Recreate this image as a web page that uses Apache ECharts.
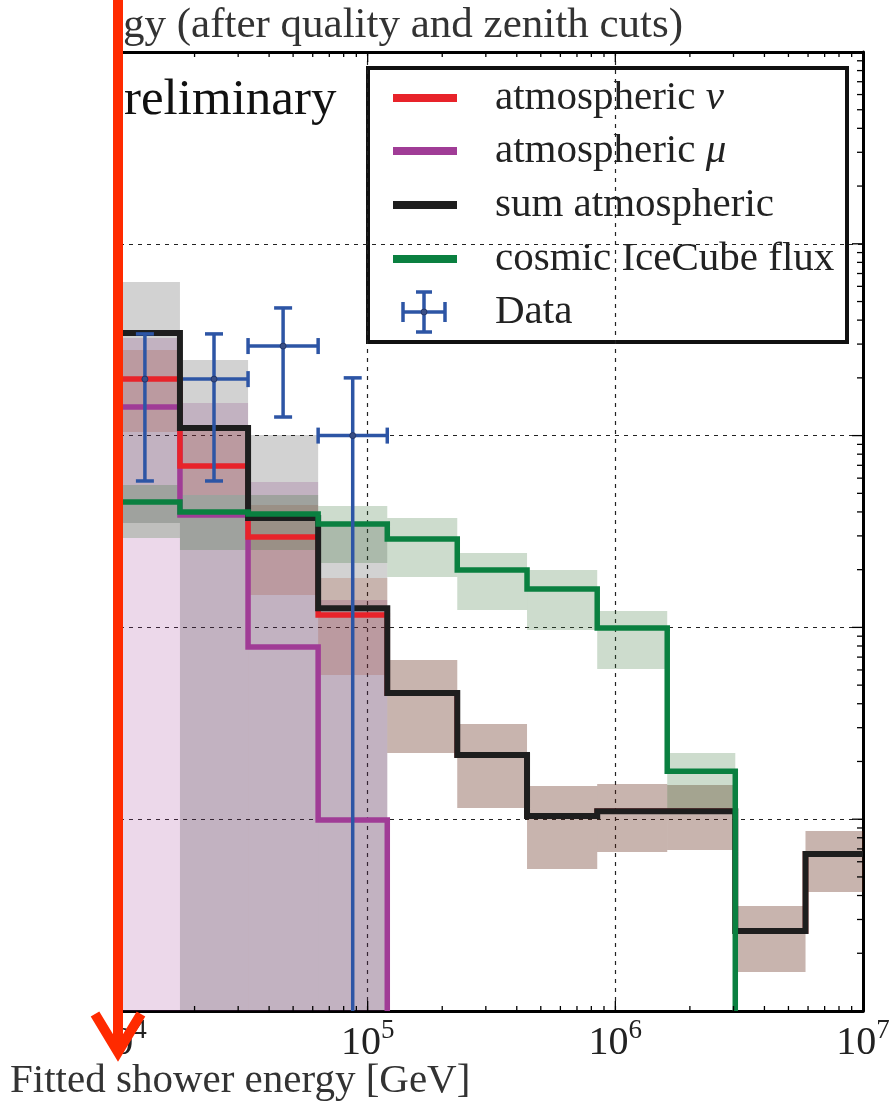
<!DOCTYPE html>
<html>
<head>
<meta charset="utf-8">
<script src="https://cdn.jsdelivr.net/npm/echarts@6/dist/echarts.min.js"></script>
<style>
  html, body { margin: 0; padding: 0; background: #ffffff; }
  #chart { width: 894px; height: 1109px; }
</style>
</head>
<body>
<div id="chart"></div>
<script>
// Bin edges of the fitted shower energy histogram [GeV]
const binEdges = [9100, 17460, 32890, 63100, 120000, 230000, 440000, 845000, 1620000, 3050000, 5860000, 11200000];

// Expected events per bin (0 = empty bin)
const atmNu  = [1.97, 0.694, 0.296, 0.116, 0.0455, 0.0216, 0.0104, 0.0110, 0.0110, 0.00261, 0.00659];
const atmMu  = [1.41, 0.385, 0.079, 0.0099, 0, 0, 0, 0, 0, 0, 0];
const sumAtm = [3.43, 1.096, 0.372, 0.126, 0.0455, 0.0216, 0.0104, 0.0110, 0.0110, 0.00261, 0.00659];
const cosmic = [0.451, 0.400, 0.390, 0.346, 0.289, 0.199, 0.1585, 0.0993, 0.0178, 0, 0];

// Uncertainty bands: low / high edge per bin (low 0 = open to the bottom, null = no band)
const atmNuLo  = [1.044, 0.490, 0.1475, 0.0565, 0.02214, 0.01144, 0.0055, 0.00675, 0.00691, 0.001598, 0.004173];
const atmNuHi  = [2.795, 1.136, 0.4347, 0.1810, 0.0676, 0.03135, 0.0149, 0.01526, 0.01508, 0.003527, 0.00868];
const atmMuLo  = [0, 0, 0, 0, null, null, null, null, null, null, null];
const atmMuHi  = [3.23, 1.479, 0.573, 0.139, null, null, null, null, null, null, null];
const sumLo    = [0.350, 0, 0, 0, 0.02214, 0.01144, 0.0055, 0.00675, 0.00691, 0.001598, 0.004173];
const sumHi    = [6.32, 2.48, 1.007, 0.354, 0.0676, 0.03135, 0.0149, 0.01526, 0.01508, 0.003527, 0.00868];
const cosmicLo = [0.2924, 0.2533, 0.2533, 0.2167, 0.1832, 0.1232, 0.0969, 0.0607, 0.01117, null, null];
const cosmicHi = [0.5526, 0.490, 0.490, 0.4295, 0.372, 0.2443, 0.199, 0.1218, 0.02214, null, null];

// Observed events (bin index, value, error bar low / high; low 0 = open to the bottom)
const dataBin = [0, 1, 2, 3];
const dataVal = [1.97, 1.97, 2.93, 1.0];
const dataLo  = [0.58, 0.58, 1.25, 0];
const dataHi  = [3.39, 3.39, 4.63, 2.0];

// Axis ranges
const xRange = [1e4, 1e7];
const yRange = [1e-3, 1e2];

// Text
const titleText  = 'gy (after quality and zenith cuts)';
const stampText  = 'reliminary';
const xTitleText = 'Fitted shower energy [GeV]';
const legendLabels = ['atmospheric {g|ν}', 'atmospheric {g|μ}', 'sum atmospheric', 'cosmic IceCube flux', 'Data'];

const SERIF = '"Liberation Serif", "Times New Roman", serif';
const COL = { nu: '#e8232a', mu: '#a03c96', sum: '#1e1e1e', cosmic: '#0a8040', data: '#2d55a5', arrow: '#ff2a00' };
const FLOOR = 1e-6; // stand-in for empty / open-ended values on the log axis

const chart = echarts.init(document.getElementById('chart'), null, { renderer: 'canvas' });

function bandSeries(lo, hi, fill) {
  const items = [];
  lo.forEach((l, i) => { if (l !== null) items.push([binEdges[i], l, binEdges[i + 1], hi[i]]); });
  return {
    type: 'custom', clip: true, silent: true,
    encode: { x: [0, 2], y: [1, 3] },
    data: items,
    renderItem(params, api) {
      const a = api.coord([api.value(0), api.value(3)]);
      const lowV = api.value(1) > 0 ? api.value(1) : FLOOR;
      const b = api.coord([api.value(2), lowV]);
      return { type: 'rect', shape: { x: a[0], y: a[1], width: b[0] - a[0], height: b[1] - a[1] }, style: { fill } };
    }
  };
}

function stepSeries(vals, stroke, width) {
  return {
    type: 'custom', clip: true, silent: true,
    data: [[binEdges[0], vals[0]]],
    renderItem(params, api) {
      const pts = [];
      for (let i = 0; i < vals.length; i++) {
        const v = vals[i];
        if (v > 0) {
          pts.push(api.coord([binEdges[i], v]));
          pts.push(api.coord([binEdges[i + 1], v]));
        } else {
          const last = pts[pts.length - 1];
          pts.push([last[0], api.coord([binEdges[i], FLOOR])[1]]);
          break;
        }
      }
      return { type: 'polyline', shape: { points: pts }, style: { stroke, lineWidth: width, fill: null, lineJoin: 'miter', lineCap: 'butt' } };
    }
  };
}

function dataItems() {
  return dataBin.map((b, k) => [Math.sqrt(binEdges[b] * binEdges[b + 1]), dataVal[k], dataLo[k], dataHi[k], binEdges[b], binEdges[b + 1], k]);
}

const BAR_W = 3.5;

// horizontal bars (bin width) of the data points
const dataHSeries = {
  type: 'custom', clip: true, silent: true,
  data: dataItems(),
  renderItem(params, api) {
    const l = api.coord([api.value(4), api.value(1)]);
    const r = api.coord([api.value(5), api.value(1)]);
    const st = { stroke: COL.data, lineWidth: BAR_W };
    return { type: 'group', children: [
      { type: 'line', shape: { x1: l[0], y1: l[1], x2: r[0], y2: r[1] }, style: st },
      { type: 'line', shape: { x1: l[0], y1: l[1] - 8, x2: l[0], y2: l[1] + 8 }, style: st },
      { type: 'line', shape: { x1: r[0], y1: r[1] - 8, x2: r[0], y2: r[1] + 8 }, style: st }
    ] };
  }
};

// vertical (statistical) bars and markers of the data points
const dataVSeries = {
  type: 'custom', clip: true, silent: true,
  data: dataItems(),
  renderItem(params, api) {
    const x = api.value(0);
    const c = api.coord([x, api.value(1)]);
    const lowV = api.value(2) > 0 ? api.value(2) : FLOOR;
    const lo = api.coord([x, lowV]);
    const hi = api.coord([x, api.value(3)]);
    const st = { stroke: COL.data, lineWidth: BAR_W };
    const kids = [
      { type: 'line', shape: { x1: c[0], y1: hi[1], x2: c[0], y2: lo[1] }, style: st },
      { type: 'line', shape: { x1: c[0] - 9, y1: hi[1], x2: c[0] + 9, y2: hi[1] }, style: st }
    ];
    if (api.value(2) > 0) kids.push({ type: 'line', shape: { x1: c[0] - 9, y1: lo[1], x2: c[0] + 9, y2: lo[1] }, style: st });
    kids.push({ type: 'circle', shape: { cx: c[0], cy: c[1], r: 3 }, style: { fill: '#3a4f86', stroke: '#23376b', lineWidth: 1 } });
    return { type: 'group', children: kids };
  }
};

// minor / major tick marks on the frame
const tickSeries = {
  type: 'custom', clip: false, silent: true,
  data: [[xRange[0], yRange[0]]],
  renderItem(params, api) {
    const kids = [];
    const st = { stroke: '#000', lineWidth: 1.3 };
    for (let d = Math.log10(xRange[0]); d < Math.log10(xRange[1]); d++) {
      for (let k = 1; k < 10; k++) {
        const v = k * Math.pow(10, d);
        if (v <= xRange[0]) continue;
        const len = k === 1 ? 10 : 5;
        const b = api.coord([v, yRange[0]]);
        const t = api.coord([v, yRange[1]]);
        kids.push({ type: 'line', shape: { x1: b[0], y1: b[1], x2: b[0], y2: b[1] - len }, style: st });
        kids.push({ type: 'line', shape: { x1: t[0], y1: t[1], x2: t[0], y2: t[1] + len }, style: st });
      }
    }
    for (let d = Math.log10(yRange[0]); d < Math.log10(yRange[1]); d++) {
      for (let k = 1; k < 10; k++) {
        const v = k * Math.pow(10, d);
        if (v <= yRange[0]) continue;
        const len = k === 1 ? 11 : 6;
        const r = api.coord([xRange[1], v]);
        kids.push({ type: 'line', shape: { x1: r[0], y1: r[1], x2: r[0] - len, y2: r[1] }, style: st });
      }
    }
    return { type: 'group', children: kids };
  }
};

const splitStyle = { show: true, lineStyle: { color: '#222', width: 1.2, type: [4, 5] } };
const frameLine = { show: true, lineStyle: { color: '#000', width: 3 } };

// legend panel
const legendGroup = (() => {
  const x0 = 368, y0 = 68, w = 479, h = 274;
  const rows = [98, 151, 205, 259, 312];
  const lineCols = [COL.nu, COL.mu, COL.sum, COL.cosmic];
  const kids = [{ type: 'rect', shape: { x: x0, y: y0, width: w, height: h }, style: { fill: '#fff', stroke: '#111', lineWidth: 4 } }];
  lineCols.forEach((c, i) => {
    kids.push({ type: 'line', shape: { x1: 393, y1: rows[i], x2: 457, y2: rows[i] }, style: { stroke: c, lineWidth: 8 } });
  });
  const st = { stroke: COL.data, lineWidth: BAR_W };
  const cx = 424, cy = rows[4];
  kids.push({ type: 'line', shape: { x1: 403, y1: cy, x2: 445, y2: cy }, style: st });
  kids.push({ type: 'line', shape: { x1: cx, y1: cy - 20, x2: cx, y2: cy + 20 }, style: st });
  kids.push({ type: 'line', shape: { x1: cx - 8, y1: cy - 20, x2: cx + 8, y2: cy - 20 }, style: st });
  kids.push({ type: 'line', shape: { x1: cx - 8, y1: cy + 20, x2: cx + 8, y2: cy + 20 }, style: st });
  kids.push({ type: 'line', shape: { x1: 403, y1: cy - 10, x2: 403, y2: cy + 10 }, style: st });
  kids.push({ type: 'line', shape: { x1: 445, y1: cy - 10, x2: 445, y2: cy + 10 }, style: st });
  kids.push({ type: 'circle', shape: { cx, cy, r: 3 }, style: { fill: '#3a4f86', stroke: '#23376b', lineWidth: 1 } });
  legendLabels.forEach((t, i) => {
    kids.push({ type: 'text', x: 495, y: rows[i], style: {
      text: t, fontFamily: SERIF, fontSize: 41, fill: '#222', verticalAlign: 'middle', align: 'left',
      rich: { g: { fontFamily: SERIF, fontSize: 41, fontStyle: 'italic', fill: '#222' } }
    } });
  });
  return { type: 'group', z: 100, children: kids };
})();

const option = {
  animation: false,
  backgroundColor: '#ffffff',
  grid: { left: 120, right: 31, top: 52, bottom: 98 },
  xAxis: [
    {
      type: 'log', logBase: 10, min: xRange[0], max: xRange[1], position: 'bottom',
      axisLine: frameLine, axisTick: { show: false }, splitLine: splitStyle,
      axisLabel: {
        show: true, margin: 6, showMinLabel: true, showMaxLabel: true,
        formatter: v => '{b|10}{s|' + Math.round(Math.log10(v)) + '}',
        rich: {
          b: { fontFamily: SERIF, fontSize: 40, color: '#222', lineHeight: 52 },
          s: { fontFamily: SERIF, fontSize: 27, color: '#222', verticalAlign: 'top', lineHeight: 27 }
        }
      }
    },
    {
      type: 'log', logBase: 10, min: xRange[0], max: xRange[1], position: 'top',
      axisLine: frameLine, axisTick: { show: false }, splitLine: { show: false }, axisLabel: { show: false }
    }
  ],
  yAxis: [
    {
      type: 'log', logBase: 10, min: yRange[0], max: yRange[1], position: 'left',
      axisLine: frameLine, axisTick: { show: false }, splitLine: splitStyle, axisLabel: { show: false }
    },
    {
      type: 'log', logBase: 10, min: yRange[0], max: yRange[1], position: 'right',
      axisLine: frameLine, axisTick: { show: false }, splitLine: { show: false }, axisLabel: { show: false }
    }
  ],
  series: [
    bandSeries(atmMuLo, atmMuHi, 'rgba(160,60,150,0.2)'),
    bandSeries(atmNuLo, atmNuHi, 'rgba(190,50,10,0.18)'),
    bandSeries(sumLo, sumHi, 'rgba(30,30,30,0.2)'),
    bandSeries(cosmicLo, cosmicHi, 'rgba(55,115,55,0.25)'),
    dataHSeries,
    stepSeries(atmMu, COL.mu, 5.5),
    stepSeries(atmNu, COL.nu, 5.5),
    stepSeries(sumAtm, COL.sum, 6),
    stepSeries(cosmic, COL.cosmic, 5.5),
    dataVSeries,
    tickSeries
  ],
  graphic: [
    { type: 'text', x: 123, y: 26, z: 100, style: { text: titleText, fontFamily: SERIF, fontSize: 43, fill: '#333', verticalAlign: 'middle' } },
    { type: 'text', x: 124, y: 101, z: 100, style: { text: stampText, fontFamily: SERIF, fontSize: 51, fill: '#111', verticalAlign: 'middle' } },
    { type: 'text', x: 10, y: 1081, z: 100, style: { text: xTitleText, fontFamily: SERIF, fontSize: 41, fill: '#333', verticalAlign: 'middle' } },
    legendGroup,
    // blank margin left of the marker arrow
    { type: 'rect', z: 105, shape: { x: 0, y: 1013, width: 113, height: 44 }, style: { fill: '#ffffff' } },
    // red marker arrow
    { type: 'line', z: 110, shape: { x1: 118, y1: 0, x2: 118, y2: 1048 }, style: { stroke: COL.arrow, lineWidth: 10 } },
    { type: 'polyline', z: 110, shape: { points: [[95, 1014], [118, 1052], [141, 1014]] }, style: { stroke: COL.arrow, lineWidth: 10, fill: null, lineJoin: 'miter' } }
  ]
};

chart.setOption(option);
</script>
</body>
</html>
